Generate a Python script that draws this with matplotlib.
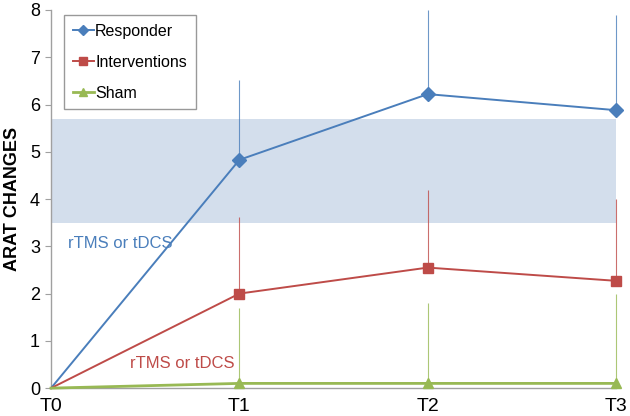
import numpy as np
import matplotlib.pyplot as plt

plt.rcParams['font.family'] = ['Liberation Sans', 'DejaVu Sans']

times = ['T0', 'T1', 'T2', 'T3']
responder = [0, 4.83, 6.22, 5.88]
responder_top = [0, 6.52, 8.0, 7.9]
interventions = [0, 2.0, 2.55, 2.27]
interventions_top = [0, 3.63, 4.2, 4.0]
sham = [0, 0.1, 0.1, 0.1]
sham_top = [0, 1.7, 1.8, 2.0]
band = (3.5, 5.7)

blue = '#4A7EBB'
red = '#BE4B48'
green = '#98B954'

fig = plt.figure(figsize=(6.3, 4.16), dpi=100)
ax = fig.add_axes([0.081, 0.067, 0.897, 0.909])
x = np.arange(len(times))

ax.axhspan(band[0], band[1], xmin=0, xmax=1, color='#D3DEEC', zorder=0, lw=0)

series = [
    ('Responder', responder, responder_top, blue, 'D', 7, 1.4),
    ('Interventions', interventions, interventions_top, red, 's', 7.5, 1.4),
    ('Sham', sham, sham_top, green, '^', 7, 2.0),
]
for name, vals, tops, col, mk, ms, lw in series:
    vals = np.array(vals)
    err = np.array(tops) - vals
    ax.errorbar(x, vals, yerr=[np.zeros_like(err), err], fmt='none',
                ecolor=col, elinewidth=0.8, alpha=0.8, capsize=0, zorder=2, clip_on=False)
    ax.plot(x, vals, color=col, marker=mk, markersize=ms, lw=lw, markevery=[1, 2, 3],
            label=name, zorder=3, clip_on=False)

ax.text(0.09, 3.05, 'rTMS or tDCS', color=blue, fontsize=12, ha='left', va='center')
ax.text(0.42, 0.52, 'rTMS or tDCS', color=red, fontsize=12, ha='left', va='center')

ax.set_xlim(0, 3)
ax.set_ylim(0, 8)
ax.set_xticks(x)
ax.set_xticklabels(times, fontsize=14)
ax.set_yticks(range(0, 9))
ax.tick_params(axis='y', labelsize=13, length=4, color='#A0A0A0', pad=4)
ax.tick_params(axis='x', length=0, pad=7)
ax.set_ylabel('ARAT CHANGES', fontsize=13, fontweight='bold', labelpad=6)

for s in ['top', 'right']:
    ax.spines[s].set_visible(False)
for s in ['left', 'bottom']:
    ax.spines[s].set_color('#A0A0A0')
    ax.spines[s].set_linewidth(1)

leg = ax.legend(loc='upper left', bbox_to_anchor=(0.023, 0.987), fontsize=11.5,
                handlelength=1.3, handletextpad=0.1, labelspacing=1.0,
                fancybox=False, frameon=True, borderpad=0.55, borderaxespad=0,
                markerscale=0.75)
leg.get_frame().set_edgecolor('#808080')
leg.get_frame().set_linewidth(1)

plt.savefig('out.png', dpi=100)
